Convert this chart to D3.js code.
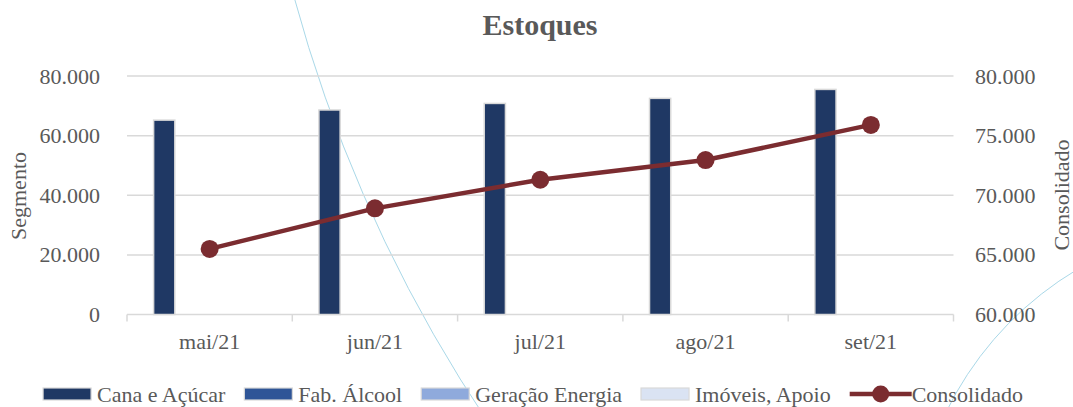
<!DOCTYPE html>
<html>
<head>
<meta charset="utf-8">
<script src="https://cdn.jsdelivr.net/npm/d3@7"></script>
<style>
  html, body { margin: 0; padding: 0; background: #fff; }
  svg { display: block; }
  svg text { font-family: "Liberation Serif", "Times New Roman", serif; fill: #595959; }
</style>
</head>
<body>
<svg id="chart" width="1073" height="407"></svg>
<script>
// ---- data ----
const categories = ["mai/21", "jun/21", "jul/21", "ago/21", "set/21"];
const canaAcucar = [65200, 68600, 70800, 72500, 75500];
const fabAlcool = [0, 0, 0, 0, 0];
const geracaoEnergia = [0, 0, 0, 0, 0];
const imoveisApoio = [0, 0, 0, 0, 0];
const consolidado = [65500, 68900, 71300, 72950, 75900];
const leftTicks = [0, 20000, 40000, 60000, 80000];
const rightTicks = [60000, 65000, 70000, 75000, 80000];
const barSeriesNames = ["Cana e Açúcar", "Fab. Álcool", "Geração Energia", "Imóveis, Apoio"];
const lineSeriesName = "Consolidado";

// ---- styling ----
const FONT = "Liberation Serif";
const barColors = ["#1F3864", "#2F5597", "#8FAADC", "#DAE3F3"];
const lineColor = "#7B2C30";
const gridColor = "#D9D9D9";
const fmt = v => d3.format(",")(v).replace(/,/g, ".");

const svg = d3.select("#chart");
const plot = { left: 127, right: 953.5, top: 76, bottom: 314.5 };

const barSeries = [canaAcucar, fabAlcool, geracaoEnergia, imoveisApoio];

// scales
const x0 = d3.scaleBand().domain(categories).range([plot.left, plot.right])
  .paddingInner(0.313).paddingOuter(0.1565);
// five slots in each cluster (four bar series + line series slot)
const x1 = d3.scaleBand().domain([...barSeriesNames, lineSeriesName]).range([0, x0.bandwidth()]);
const yL = d3.scaleLinear().domain([0, 80000]).range([plot.bottom, plot.top]);
const yR = d3.scaleLinear().domain([60000, 80000]).range([plot.bottom, plot.top]);
const xc = c => x0(c) + x0.bandwidth() / 2;

// decorative background arcs (slide background circles)
const deco = svg.append("g").attr("fill", "none").attr("stroke", "#A9D8E8").attr("stroke-width", 1);
const arc1 = d3.path();
arc1.arc(1681, -379, 1437, Math.PI * 0.985, Math.PI * 0.80, true);
deco.append("path").attr("d", arc1.toString());
const arc2 = d3.path();
arc2.arc(1250, 560, 338, Math.PI * 1.35, Math.PI * 1.02, true);
deco.append("path").attr("d", arc2.toString());

// gridlines
svg.append("g").selectAll("line").data(leftTicks.filter(t => t > 0)).join("line")
  .attr("x1", plot.left).attr("x2", plot.right)
  .attr("y1", d => yL(d)).attr("y2", d => yL(d))
  .attr("stroke", gridColor).attr("stroke-width", 1.5);

// x axis
const xAxisG = svg.append("g").attr("transform", `translate(0,${plot.bottom})`);
xAxisG.append("line").attr("x1", plot.left).attr("x2", plot.right).attr("y1", 0).attr("y2", 0)
  .attr("stroke", gridColor).attr("stroke-width", 1.5);
const step = x0.step();
const boundaries = d3.range(categories.length + 1).map(i => plot.left + i * step);
xAxisG.selectAll("line.tick").data(boundaries).join("line").attr("class", "tick")
  .attr("x1", d => d).attr("x2", d => d).attr("y1", 0).attr("y2", 7)
  .attr("stroke", gridColor).attr("stroke-width", 1.5);
xAxisG.selectAll("text").data(categories).join("text")
  .attr("x", d => xc(d)).attr("y", 34).attr("font-family", FONT)
  .attr("text-anchor", "middle").attr("font-size", 22).text(d => d);

// left axis labels
svg.append("g").selectAll("text").data(leftTicks).join("text")
  .attr("x", 100).attr("y", d => yL(d) + 7.5).attr("font-family", FONT)
  .attr("text-anchor", "end").attr("font-size", 22).text(d => fmt(d));

// right axis labels
svg.append("g").selectAll("text").data(rightTicks).join("text")
  .attr("x", 975).attr("y", d => yR(d) + 7.5).attr("font-family", FONT)
  .attr("text-anchor", "start").attr("font-size", 22).text(d => fmt(d));

// axis titles
svg.append("text").attr("transform", `translate(26,196) rotate(-90)`).attr("font-family", FONT)
  .attr("text-anchor", "middle").attr("font-size", 22).text("Segmento");
svg.append("text").attr("transform", `translate(1069,195) rotate(-90)`).attr("font-family", FONT)
  .attr("text-anchor", "middle").attr("font-size", 22).text("Consolidado");

// title
svg.append("text").attr("x", 540).attr("y", 35).attr("text-anchor", "middle").attr("font-family", FONT)
  .attr("font-size", 30).attr("font-weight", "bold").text("Estoques");

// bars
const bw = x1.bandwidth();
barSeries.forEach((vals, si) => {
  svg.append("g").selectAll("rect").data(vals.map((v, i) => ({ v, c: categories[i] })).filter(d => d.v > 0))
    .join("rect")
    .attr("x", d => x0(d.c) + x1(barSeriesNames[si]) + 0.75)
    .attr("width", bw - 1.5)
    .attr("y", d => yL(d.v))
    .attr("height", d => yL(0) - yL(d.v))
    .attr("fill", barColors[si])
    .attr("stroke", gridColor).attr("stroke-width", 1.5);
});

// line series
const lineData = consolidado.map((v, i) => ({ v, c: categories[i] }));
svg.append("path").datum(lineData)
  .attr("d", d3.line().x(d => xc(d.c)).y(d => yR(d.v)))
  .attr("fill", "none").attr("stroke", lineColor).attr("stroke-width", 4.5)
  .attr("stroke-linejoin", "round");
svg.append("g").selectAll("circle").data(lineData).join("circle")
  .attr("cx", d => xc(d.c)).attr("cy", d => yR(d.v)).attr("r", 9)
  .attr("fill", lineColor);

// legend
const legend = svg.append("g");
const items = [...barSeriesNames.map((n, i) => ({ name: n, type: "bar", color: barColors[i] })),
  { name: lineSeriesName, type: "line", color: lineColor }];
let cursor = 0;
const legendY = 394;
const gap = 19;
items.forEach(it => {
  const g = legend.append("g");
  let symW;
  if (it.type === "bar") {
    symW = 48;
    g.append("rect").attr("x", cursor).attr("y", legendY - 6).attr("width", symW).attr("height", 12)
      .attr("fill", it.color).attr("stroke", gridColor).attr("stroke-width", 1.2);
    cursor += symW + 6;
  } else {
    symW = 62;
    g.append("line").attr("x1", cursor).attr("x2", cursor + symW).attr("y1", legendY).attr("y2", legendY)
      .attr("stroke", it.color).attr("stroke-width", 4.5);
    g.append("circle").attr("cx", cursor + symW / 2).attr("cy", legendY).attr("r", 8.5).attr("fill", it.color);
    cursor += symW;
  }
  const t = g.append("text").attr("x", cursor).attr("y", legendY + 7.5)
    .attr("font-family", FONT).attr("font-size", 22).text(it.name);
  cursor += t.node().getComputedTextLength() + gap;
});
const legendWidth = cursor - gap;
legend.attr("transform", `translate(${533 - legendWidth / 2},0)`);
</script>
</body>
</html>
